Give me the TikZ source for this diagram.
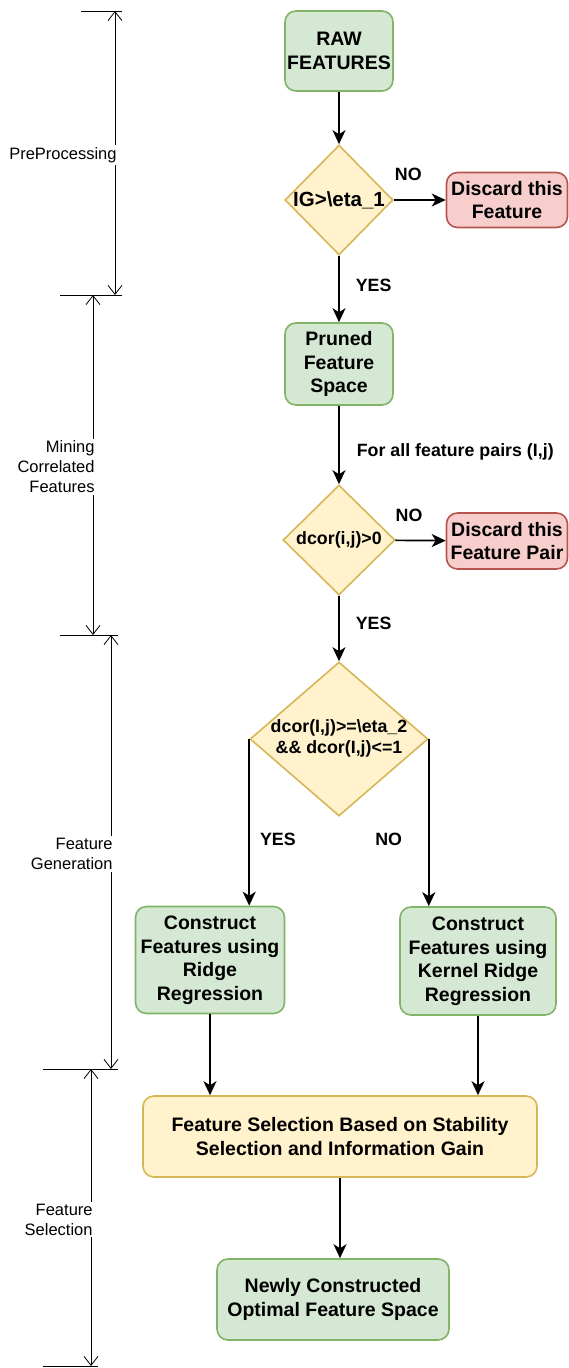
\documentclass[tikz,border=0pt]{standalone}
\usepackage{fontspec}
\setmainfont{Liberation Sans}
\usetikzlibrary{shapes.geometric,arrows.meta}

\definecolor{greenfill}{HTML}{D5E8D4}
\definecolor{greenline}{HTML}{82B366}
\definecolor{redfill}{HTML}{F8CECC}
\definecolor{redline}{HTML}{B85450}
\definecolor{yellowfill}{HTML}{FFF2CC}
\definecolor{yellowline}{HTML}{D6B656}

\begin{document}
\begin{tikzpicture}[x=1pt,y=-1pt,
    box/.style={rectangle,rounded corners=11pt,line width=1.6pt,align=center,
      inner sep=0pt,font=\fontsize{19.5}{23.5}\selectfont\bfseries},
    greenbox/.style={box,draw=greenline,fill=greenfill},
    redbox/.style={box,draw=redline,fill=redfill},
    yellowbox/.style={box,draw=yellowline,fill=yellowfill},
    decision/.style={diamond,draw=yellowline,fill=yellowfill,line width=1.6pt,
      inner sep=0pt,font=\fontsize{17.8}{20.5}\selectfont\bfseries},
    flow/.style={line width=1.7pt,-{Stealth[length=14pt,width=13pt,inset=4pt]}},
    lbl/.style={font=\fontsize{17.8}{20}\selectfont\bfseries,inner sep=0pt},
    dim/.style={line width=0.8pt,
      {Straight Barb[length=9pt,width=14pt]}-{Straight Barb[length=9pt,width=14pt]}},
    tick/.style={line width=0.8pt},
    phase/.style={fill=white,align=right,inner sep=2pt,
      font=\fontsize{16.5}{20}\selectfont}]

    \useasboundingbox (0,0) rectangle (569,1368);

    \node[greenbox,minimum width=108pt,minimum height=80pt] (raw) at (339,51) {RAW\\FEATURES};
    \node[decision,minimum width=108pt,minimum height=110pt,font=\fontsize{20.5}{23}\selectfont\bfseries] (ig) at (339,200)
        {\makebox[0pt]{IG>\textbackslash eta\_1}};
    \node[redbox,minimum width=121pt,minimum height=55pt] (drop1) at (507,200) {Discard this\\Feature};
    \node[greenbox,minimum width=108pt,minimum height=82pt] (pruned) at (339,364) {Pruned\\Feature\\Space};
    \node[decision,minimum width=112pt,minimum height=110pt] (dc) at (339,540)
        {\makebox[0pt]{dcor(i,j)>0}};
    \node[redbox,minimum width=121pt,minimum height=56pt] (drop2) at (507,541) {Discard this\\Feature Pair};
    \node[decision,minimum width=178pt,minimum height=154pt] (dd) at (339,739)
        {\makebox[0pt]{\begin{tabular}{@{}c@{}}dcor(I,j)>=\textbackslash eta\_2\\\&\& dcor(I,j)<=1\end{tabular}}};
    \node[greenbox,minimum width=149pt,minimum height=107pt] (ridge) at (210,960)
        {Construct\\Features using\\Ridge\\Regression};
    \node[greenbox,minimum width=156pt,minimum height=108pt] (kernel) at (478,961)
        {Construct\\Features using\\Kernel Ridge\\Regression};
    \node[yellowbox,minimum width=394pt,minimum height=81pt] (sel) at (340,1136.5)
        {Feature Selection Based on Stability\\Selection and Information Gain};
    \node[greenbox,minimum width=232pt,minimum height=81pt] (final) at (333,1299.5)
        {Newly Constructed\\Optimal Feature Space};

    \draw[flow] (raw) -- (ig);
    \draw[flow] (ig) -- (drop1) node[lbl,pos=0.28,above=18pt] {NO};
    \draw[flow] (ig) -- (pruned) node[lbl,pos=0.44,right=16pt] {YES};
    \draw[flow] (pruned) -- (dc) node[lbl,pos=0.59,right=17pt] {For all feature pairs (I,j)};
    \draw[flow] (dc) -- (drop2) node[lbl,pos=0.27,above=18pt] {NO};
    \draw[flow] (dc) -- (dd) node[lbl,pos=0.42,right=16pt] {YES};
    \draw[flow] (dd.west) -- (dd.west |- ridge.north) node[lbl,pos=0.6,right=10pt] {YES};
    \draw[flow] (dd.east) -- (dd.east |- kernel.north) node[lbl,pos=0.6,left=26pt] {NO};
    \draw[flow] (ridge) -- (ridge.south |- sel.north);
    \draw[flow] (kernel) -- (kernel.south |- sel.north);
    \draw[flow] (sel) -- (sel.south |- final.north);

    \draw[tick] (81,11) -- (122,11);
    \draw[tick] (60,295) -- (122,295);
    \draw[tick] (60,635) -- (118,635);
    \draw[tick] (43,1069) -- (118,1069);
    \draw[tick] (43,1366) -- (98,1366);
    \draw[dim] (115,11) -- node[phase,anchor=east,xshift=4pt,yshift=-2pt] {PreProcessing} (115,295);
    \draw[dim] (93,295) -- node[phase,anchor=east,xshift=4pt,yshift=-2pt] {Mining\\Correlated\\Features} (93,635);
    \draw[dim] (111,635) -- node[phase,anchor=east,xshift=4pt,yshift=-2pt] {Feature\\Generation} (111,1069);
    \draw[dim] (91,1069) -- node[phase,anchor=east,xshift=4pt,yshift=-2pt] {Feature\\Selection} (91,1366);
\end{tikzpicture}
\end{document}
